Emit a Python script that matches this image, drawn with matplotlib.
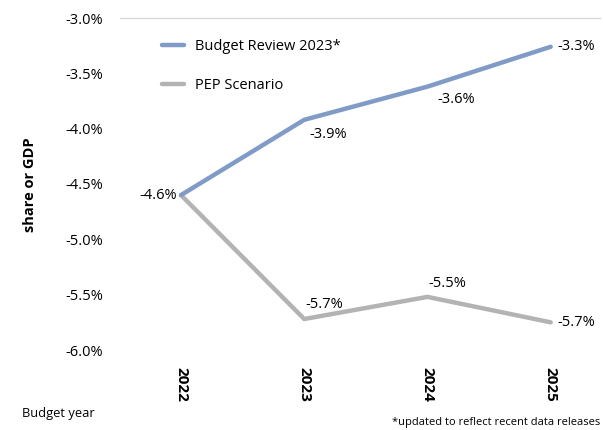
import matplotlib.pyplot as plt

years = ["2022", "2023", "2024", "2025"]
budget_review = [-4.6, -3.92, -3.62, -3.26]
pep_scenario = [-4.6, -5.72, -5.52, -5.75]
budget_labels = ["-4.6%", "-3.9%", "-3.6%", "-3.3%"]
pep_labels = ["", "-5.7%", "-5.5%", "-5.7%"]
yticks = [-6.0, -5.5, -5.0, -4.5, -4.0, -3.5, -3.0]

plt.rcParams['font.family'] = ['Open Sans', 'DejaVu Sans']

fig = plt.figure(figsize=(6.03, 4.30), dpi=100)
ax = fig.add_axes([120/603, 1 - 350/430, 480/603, 332/430])

blue = "#7f9bc6"
grey = "#b3b3b3"
x = list(range(len(years)))

ax.plot(x, pep_scenario, color=grey, lw=3.2, solid_capstyle='round', label="PEP Scenario")
ax.plot(x, budget_review, color=blue, lw=3.2, solid_capstyle='round', label="Budget Review 2023*")

ax.set_xlim(-0.495, 3.4)
ax.set_ylim(-6.0, -3.0)
ax.set_yticks(yticks)
ax.set_yticklabels([f"{v:.1f}%" for v in yticks], fontsize=10.5)
ax.set_xticks(x)
ax.set_xticklabels(years, rotation=270, fontsize=11, fontweight='bold')
ax.tick_params(axis='both', length=0)
ax.tick_params(axis='y', pad=12)
ax.tick_params(axis='x', pad=12)
for s in ax.spines.values():
    s.set_visible(False)
ax.axhline(-3.0, color="#d9d9d9", lw=1, clip_on=False)

# data labels
lbl = dict(textcoords='offset points', fontsize=10.5)
ax.annotate(budget_labels[0], (x[0], budget_review[0]), xytext=(-3, 0),
            ha='right', va='center', **lbl)
ax.annotate(budget_labels[1], (x[1], budget_review[1]), xytext=(4, -5),
            ha='left', va='top', **lbl)
ax.annotate(budget_labels[2], (x[2], budget_review[2]), xytext=(7, -4),
            ha='left', va='top', **lbl)
ax.annotate(budget_labels[3], (x[3], budget_review[3]), xytext=(5, 0),
            ha='left', va='center', **lbl)
ax.annotate(pep_labels[1], (x[1], pep_scenario[1]), xytext=(1, 5),
            ha='left', va='bottom', **lbl)
ax.annotate(pep_labels[2], (x[2], pep_scenario[2]), xytext=(1, 4),
            ha='left', va='bottom', **lbl)
ax.annotate(pep_labels[3], (x[3], pep_scenario[3]), xytext=(5, 0),
            ha='left', va='center', **lbl)

handles, labels = ax.get_legend_handles_labels()
ax.legend(handles[::-1], labels[::-1], loc='upper left', bbox_to_anchor=(0.06, 0.975),
          frameon=False, fontsize=10.5, handlelength=1.5, labelspacing=1.65)

fig.text(30/603, 1 - 185/430, "share or GDP", rotation=90, ha='center', va='center',
         fontsize=10.5, fontweight='bold')
fig.text(22/603, 1 - 413/430, "Budget year", ha='left', va='center', fontsize=9.3)
fig.text(600/603, 1 - 422/430, "*updated to reflect recent data releases", ha='right',
         va='center', fontsize=8)

fig.savefig("out.png", dpi=100)
